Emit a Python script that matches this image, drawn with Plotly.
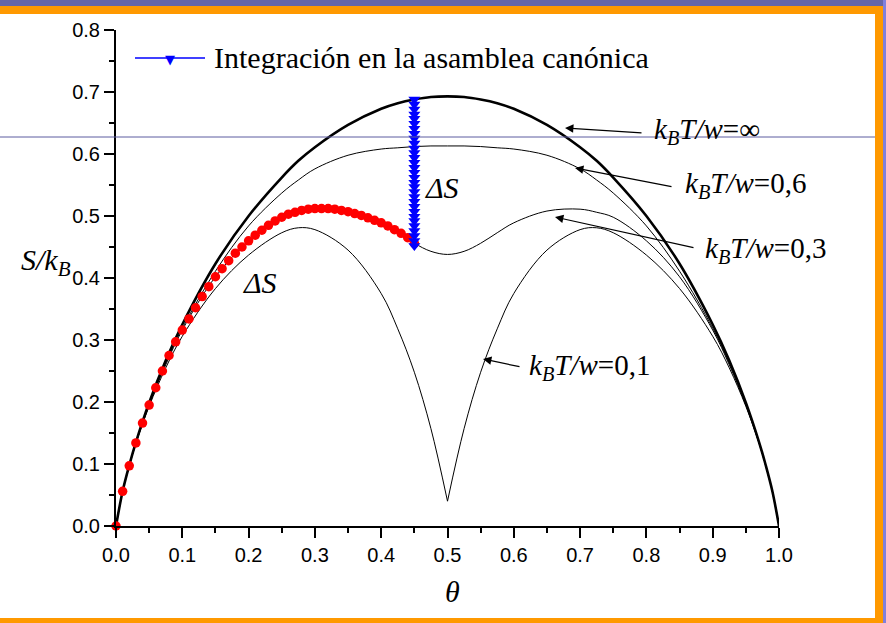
import plotly.graph_objects as go

# Coverage grid shared by the entropy curves
theta = [0, 0.01, 0.02, 0.03, 0.05, 0.075, 0.1, 0.15, 0.2, 0.25, 0.275, 0.3, 0.35,
         0.4, 0.425, 0.45, 0.475, 0.5, 0.525, 0.55, 0.575, 0.6, 0.65, 0.7, 0.725,
         0.75, 0.8, 0.85, 0.9, 0.925, 0.95, 0.97, 0.98, 0.99, 1.0]

# S/kB for each kBT/w
s_inf = [0, 0.056, 0.098, 0.135, 0.199, 0.267, 0.325, 0.423, 0.500, 0.562, 0.589, 0.611, 0.647,
         0.673, 0.682, 0.688, 0.692, 0.693, 0.692, 0.688, 0.682, 0.673, 0.647, 0.611, 0.589,
         0.562, 0.500, 0.423, 0.325, 0.267, 0.199, 0.135, 0.098, 0.056, 0]
s_06 = [0, 0.056, 0.098, 0.134, 0.197, 0.263, 0.319, 0.411, 0.484, 0.537, 0.558, 0.576, 0.598,
        0.608, 0.610, 0.612, 0.613, 0.613, 0.613, 0.612, 0.610, 0.608, 0.598, 0.576, 0.558,
        0.537, 0.484, 0.411, 0.319, 0.263, 0.197, 0.134, 0.098, 0.056, 0]
s_03 = [0, 0.056, 0.097, 0.134, 0.195, 0.260, 0.316, 0.402, 0.460, 0.498, 0.506, 0.511, 0.508,
        0.489, 0.473, 0.456, 0.443, 0.438, 0.443, 0.456, 0.473, 0.489, 0.508, 0.511, 0.506,
        0.498, 0.460, 0.402, 0.316, 0.260, 0.195, 0.134, 0.097, 0.056, 0]
s_01 = [0, 0.056, 0.097, 0.133, 0.193, 0.255, 0.306, 0.383, 0.437, 0.473, 0.481, 0.478, 0.445,
        0.375, 0.318, 0.248, 0.157, 0.040, 0.157, 0.248, 0.318, 0.375, 0.445, 0.478, 0.481,
        0.473, 0.437, 0.383, 0.306, 0.255, 0.193, 0.133, 0.097, 0.056, 0]

# Grand-canonical points (red circles)
theta_gc = [0.00, 0.01, 0.02, 0.03, 0.04, 0.05, 0.06, 0.07, 0.08, 0.09, 0.10, 0.11, 0.12,
            0.13, 0.14, 0.15, 0.16, 0.17, 0.18, 0.19, 0.20, 0.21, 0.22, 0.23, 0.24, 0.25,
            0.26, 0.27, 0.28, 0.29, 0.30, 0.31, 0.32, 0.33, 0.34, 0.35, 0.36, 0.37, 0.38,
            0.39, 0.40, 0.41, 0.42, 0.43, 0.44, 0.45]
s_gc = [0.000, 0.056, 0.097, 0.134, 0.166, 0.195, 0.223, 0.250, 0.275, 0.297, 0.316, 0.334,
        0.352, 0.370, 0.386, 0.402, 0.415, 0.428, 0.440, 0.450, 0.460, 0.469, 0.477, 0.485,
        0.492, 0.498, 0.503, 0.506, 0.509, 0.511, 0.512, 0.512, 0.512, 0.511, 0.509, 0.507,
        0.504, 0.501, 0.497, 0.493, 0.489, 0.484, 0.478, 0.472, 0.465, 0.456]

# Canonical-ensemble integration at fixed coverage
theta_can = [0.45] * 31
s_can = [0.688, 0.680, 0.672, 0.664, 0.657, 0.649, 0.641, 0.633, 0.625, 0.617, 0.609,
         0.602, 0.594, 0.586, 0.578, 0.570, 0.562, 0.554, 0.547, 0.539, 0.531, 0.523,
         0.515, 0.507, 0.499, 0.492, 0.484, 0.476, 0.468, 0.460, 0.452]

x_ticks = [0.0, 0.1, 0.2, 0.3, 0.4, 0.5, 0.6, 0.7, 0.8, 0.9, 1.0]
y_ticks = [0.0, 0.1, 0.2, 0.3, 0.4, 0.5, 0.6, 0.7, 0.8]

W, H = 886, 623
L, R, T, B = 116, 107, 30, 97
PW, PH = W - L - R, H - T - B
SERIF = "Liberation Serif, Times New Roman, serif"
SANS = "Liberation Sans, Arial, sans-serif"


def px(x, y):
    """Pixel position -> paper coordinates."""
    return (x - L) / PW, (H - B - y) / PH


def dat(x, y):
    """Pixel position -> data coordinates."""
    return (x - L) / PW * 1.0, (H - B - y) / PH * 0.8


fig = go.Figure()

line_style = dict(mode="lines", showlegend=False, hoverinfo="skip", cliponaxis=False,
                  line_shape="spline")
fig.add_trace(go.Scatter(x=theta, y=s_inf, line=dict(color="black", width=2.6), **line_style))
fig.add_trace(go.Scatter(x=theta, y=s_06, line=dict(color="black", width=1), **line_style))
fig.add_trace(go.Scatter(x=theta, y=s_03, line=dict(color="black", width=1), **line_style))
mid = theta.index(0.5)
fig.add_trace(go.Scatter(x=theta[:mid + 1], y=s_01[:mid + 1],
                         line=dict(color="black", width=1), **line_style))
fig.add_trace(go.Scatter(x=theta[mid:], y=s_01[mid:],
                         line=dict(color="black", width=1), **line_style))

fig.add_trace(go.Scatter(x=theta_gc, y=s_gc, mode="markers", showlegend=False,
                         cliponaxis=False,
                         marker=dict(symbol="circle", size=9.5, color="#ff0000")))
fig.add_trace(go.Scatter(x=theta_can, y=s_can, mode="lines+markers", showlegend=False,
                         cliponaxis=False, line=dict(color="#0000ff", width=1),
                         marker=dict(symbol="triangle-down", size=10.5, color="#0000ff")))

shapes = []


def rect(x0, y0, x1, y1, color):
    a = px(x0, y0)
    b = px(x1, y1)
    shapes.append(dict(type="rect", xref="paper", yref="paper", x0=a[0], y0=a[1],
                       x1=b[0], y1=b[1], fillcolor=color, line=dict(width=0), layer="above"))


# Slide frame
rect(0, 0, W, 6, "#6666a8")
rect(0, 6, 883, 14, "#ff9900")
rect(875, 6, 883, H, "#ff9900")
rect(0, 618, 883, H, "#ff9900")
rect(883, 0, W, H, "#8080dd")
a, b = px(0, 137), px(875, 137)
shapes.append(dict(type="line", xref="paper", yref="paper", x0=a[0], y0=a[1], x1=b[0],
                   y1=b[1], line=dict(color="#5c5ca0", width=1), layer="above"))

# Legend entry
a, b = px(135, 58), px(205, 58)
shapes.append(dict(type="line", xref="paper", yref="paper", x0=a[0], y0=a[1], x1=b[0],
                   y1=b[1], line=dict(color="#0000ff", width=1.5), layer="above"))

annotations = []


def text(x, y, s, size, xanchor="left", color="black", family=SERIF):
    p = px(x, y)
    annotations.append(dict(x=p[0], y=p[1], xref="paper", yref="paper", text=s,
                            showarrow=False, xanchor=xanchor, yanchor="middle",
                            font=dict(family=family, size=size, color=color)))


def arrow(x0, y0, x1, y1):
    t = dat(x0, y0)
    h = dat(x1, y1)
    annotations.append(dict(x=h[0], y=h[1], ax=t[0], ay=t[1], xref="x", yref="y",
                            axref="x", ayref="y", text="", showarrow=True,
                            arrowhead=2, arrowsize=1.4, arrowwidth=1.2,
                            arrowcolor="black"))


text(170, 60, "▼", 13, xanchor="center", color="#0000ff", family="DejaVu Sans")
text(212, 57, "Integración en la asamblea canónica", 30)

text(652, 131, "<i>k<sub>B</sub>T/w</i>=∞", 29)
arrow(643, 133, 565, 128)
text(683, 185, "<i>k<sub>B</sub>T/w</i>=0,6", 29)
arrow(673, 187, 575, 168)
text(703, 250, "<i>k<sub>B</sub>T/w</i>=0,3", 29)
arrow(695, 248, 555, 217)
text(527, 367, "<i>k<sub>B</sub>T/w</i>=0,1", 29)
arrow(521, 367, 483, 359)

text(442, 187, "<i>ΔS</i>", 30, xanchor="center")
text(260, 282, "<i>ΔS</i>", 30, xanchor="center")

text(46, 262, "<i>S/k<sub>B</sub></i>", 30, xanchor="center")
text(452, 591, "<i>θ</i>", 30, xanchor="center")

axis_common = dict(showgrid=False, zeroline=False, showline=True, linecolor="black",
                   linewidth=2, ticks="outside", ticklen=10, tickwidth=2, tickcolor="black",
                   tickfont=dict(family=SANS, size=20, color="black"), tickformat=".1f",
                   minor=dict(dtick=0.05, ticks="outside", ticklen=5, tickwidth=2,
                              tickcolor="black"))

fig.update_layout(
    width=W, height=H,
    margin=dict(l=L, r=R, t=T, b=B),
    paper_bgcolor="white", plot_bgcolor="white",
    showlegend=False,
    xaxis=dict(range=[0, 1], tickvals=x_ticks, **axis_common),
    yaxis=dict(range=[0, 0.8], tickvals=y_ticks, **axis_common),
    shapes=shapes,
    annotations=annotations,
)

fig.write_html("out.html")
